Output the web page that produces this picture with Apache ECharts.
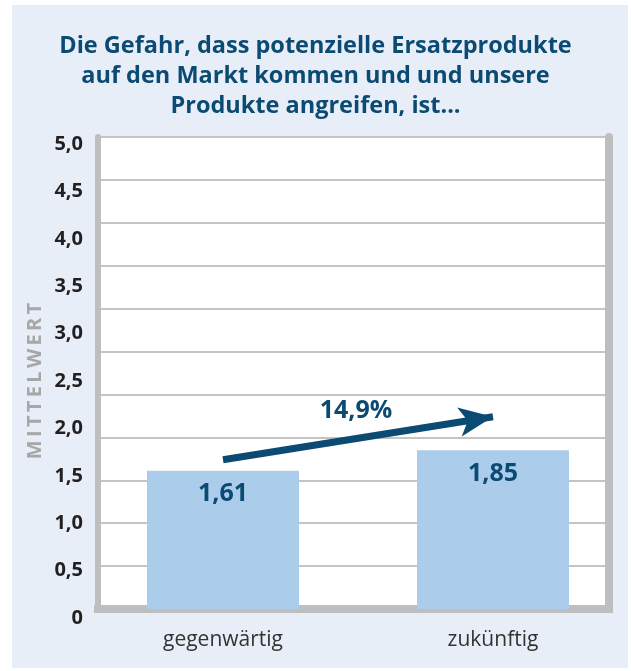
<!DOCTYPE html>
<html>
<head>
<meta charset="utf-8">
<script src="https://cdn.jsdelivr.net/npm/echarts@6/dist/echarts.min.js"></script>
<style>
  html, body { margin: 0; padding: 0; background: #ffffff; }
  #panel { position: absolute; left: 12px; top: 5px; width: 616px; height: 663px; background: #e7eef8; }
  #chart { position: absolute; left: 0; top: 0; width: 631px; height: 671px; }
</style>
</head>
<body>
<div id="panel"></div>
<div id="chart"></div>
<script>
const categories = ['gegenwärtig', 'zukünftig'];
const values = [1.61, 1.85];
const changeLabel = '14,9%';
// arrow start/end heights on the value scale
const arrowFrom = 1.74;
const arrowTo = 2.24;

const darkBlue = '#0b4a72';
const wall = '#bdbec0';
const font = 'Open Sans';

const myChart = echarts.init(document.getElementById('chart'));

const fmt = (v) => (v === 0 ? '0' : v.toFixed(1).replace('.', ','));

const option = {
  backgroundColor: 'transparent',
  textStyle: { fontFamily: font },
  title: {
    text: 'Die Gefahr, dass potenzielle Ersatzprodukte\nauf den Markt kommen und und unsere\nProdukte angreifen, ist...',
    left: 'center',
    top: 26,
    textStyle: {
      color: darkBlue,
      fontSize: 23.5,
      fontWeight: 'bold',
      lineHeight: 30,
      fontFamily: font,
    },
  },
  grid: [
    // frame with grid lines
    { left: 98, width: 511, top: 137, height: 472, show: true, backgroundColor: '#ffffff', borderWidth: 0 },
    // bars
    { left: 88, width: 540, top: 137, height: 472 },
    // tick labels
    { left: 90, width: 10, top: 144, height: 474 },
  ],
  xAxis: [
    {
      gridIndex: 0,
      type: 'category',
      data: categories,
      offset: 4,
      axisLine: { show: true, lineStyle: { color: wall, width: 8, cap: 'square' } },
      axisTick: { show: false },
      axisLabel: { show: false },
      splitLine: { show: false },
    },
    {
      gridIndex: 1,
      type: 'category',
      data: categories,
      axisLine: { show: false },
      axisTick: { show: false },
      axisLabel: { margin: 21, fontSize: 21, color: '#333333', fontFamily: font },
    },
    { gridIndex: 2, type: 'value', show: false },
  ],
  yAxis: [
    {
      gridIndex: 0,
      type: 'value',
      min: 0,
      max: 5.5,
      interval: 0.5,
      axisLine: { show: true, lineStyle: { color: wall, width: 6 } },
      axisTick: { show: false },
      axisLabel: { show: false },
      splitLine: { show: true, lineStyle: { color: '#c4c4c4', width: 2 } },
    },
    {
      gridIndex: 0,
      type: 'value',
      position: 'right',
      min: 0,
      max: 5.5,
      interval: 0.5,
      axisLine: { show: true, lineStyle: { color: wall, width: 8 } },
      axisTick: { show: false },
      axisLabel: { show: false },
      splitLine: { show: false },
    },
    { gridIndex: 1, type: 'value', min: 0, max: 5.5, show: false },
    {
      gridIndex: 2,
      type: 'value',
      min: 0,
      max: 5,
      interval: 0.5,
      name: 'MITTELWERT'.split('').join('\u2009'),
      nameLocation: 'middle',
      nameGap: 45,
      nameTextStyle: { color: '#a7a7a7', fontSize: 20, fontWeight: 'bold', fontFamily: font },
      axisLine: { show: false },
      axisTick: { show: false },
      splitLine: { show: false },
      axisLabel: {
        margin: 7,
        fontSize: 20,
        fontWeight: 'bold',
        color: '#231f20',
        fontFamily: font,
        formatter: fmt,
      },
    },
  ],
  series: [
    {
      type: 'bar',
      xAxisIndex: 1,
      yAxisIndex: 2,
      data: values,
      barWidth: 152,
      itemStyle: { color: '#abcdeb' },
      label: {
        show: true,
        position: 'insideTop',
        distance: 11,
        fontSize: 25,
        fontWeight: 'bold',
        color: darkBlue,
        fontFamily: font,
        formatter: (p) => p.value.toFixed(2).replace('.', ','),
      },
      markLine: {
        silent: true,
        symbol: ['none', 'arrow'],
        symbolSize: [22, 34],
        label: { show: false },
        lineStyle: { color: darkBlue, width: 7, type: 'solid' },
        emphasis: { disabled: true },
        data: [[{ coord: [categories[0], arrowFrom] }, { coord: [categories[1], arrowTo] }]],
      },
    },
  ],
};

myChart.setOption(option);

// percentage label above the middle of the arrow
const p1 = myChart.convertToPixel({ gridIndex: 1 }, [categories[0], arrowFrom]);
const p2 = myChart.convertToPixel({ gridIndex: 1 }, [categories[1], arrowTo]);
myChart.setOption({
  graphic: [
    {
      type: 'text',
      x: (p1[0] + p2[0]) / 2 - 2,
      y: (p1[1] + p2[1]) / 2 - 27,
      style: {
        text: changeLabel,
        fill: darkBlue,
        font: 'bold 25px "Open Sans"',
        align: 'center',
        verticalAlign: 'middle',
      },
    },
  ],
});
</script>
</body>
</html>
